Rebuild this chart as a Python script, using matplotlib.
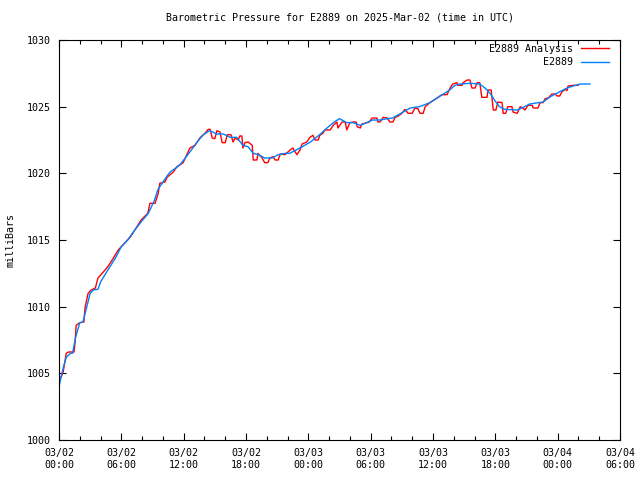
import matplotlib
matplotlib.use("Agg")
import matplotlib.pyplot as plt
from matplotlib.ticker import MultipleLocator

# hours since 2025-03-02 00:00 UTC
obs_hours = [0.0, 0.4, 0.7, 1.1, 1.3, 1.6, 2.0, 2.3, 2.6, 3.0, 3.3, 3.75, 4.0, 4.7, 5.4, 6.0,
             6.6, 7.3, 7.9, 8.6, 9.2, 9.5, 10.0, 10.5, 10.7, 11.6, 12.6, 13.3, 13.9, 14.5,
             15.2, 15.8, 16.5, 17.1, 17.7, 18.2, 18.7, 19.2, 19.8, 20.5, 21.1, 21.8, 22.2,
             23.2, 24.2, 25.1, 25.8, 26.4, 27.0, 27.7, 28.3, 29.0, 29.6, 30.2, 30.9, 31.6,
             32.1, 32.8, 33.8, 34.7, 35.7, 36.7, 37.6, 38.1, 38.6, 39.6, 40.5, 41.0, 41.5,
             42.0, 42.4, 42.9, 44.1, 44.7, 45.3, 46.6, 47.3, 47.9, 48.9, 49.5, 50.2, 51.1]
obs_mb = [1004.0, 1005.4, 1006.2, 1006.5, 1006.5, 1007.7, 1008.8, 1008.85, 1009.75, 1011.0,
          1011.25, 1011.3, 1011.85, 1012.75, 1013.6, 1014.5, 1015.0, 1015.75, 1016.35, 1017.0,
          1018.0, 1018.75, 1019.35, 1019.9, 1020.1, 1020.6, 1021.6, 1022.35, 1022.9, 1023.2,
          1022.95, 1022.95, 1022.7, 1022.7, 1022.1, 1022.0, 1021.5, 1021.4, 1021.15, 1021.15,
          1021.4, 1021.5, 1021.5, 1021.9, 1022.35, 1022.9, 1023.4, 1023.8, 1024.1, 1023.8,
          1023.8, 1023.6, 1023.8, 1024.0, 1024.0, 1024.1, 1024.15, 1024.45, 1024.9, 1025.0,
          1025.3, 1025.8, 1026.25, 1026.6, 1026.7, 1026.75, 1026.7, 1026.4, 1026.0, 1025.4,
          1025.0, 1024.8, 1024.75, 1024.95, 1025.2, 1025.35, 1025.75, 1026.0, 1026.4, 1026.55,
          1026.7, 1026.7]

ana_hours = [0.0, 0.2, 0.4, 0.7, 0.9, 1.3, 1.45, 1.55, 1.65, 2.0, 2.4, 2.5, 2.8, 3.1, 3.5,
             3.75, 4.05, 4.7, 5.2, 5.7, 6.35, 6.85, 7.3, 7.9, 8.55, 8.75, 9.25, 9.55, 9.7,
             10.2, 10.4, 11.0, 11.35, 11.95, 12.6, 13.1, 13.55, 14.05, 14.35, 14.55, 14.75,
             15.0, 15.2, 15.5, 15.7, 16.0, 16.2, 16.55, 16.75, 16.95, 17.25, 17.4, 17.6, 17.7,
             17.9, 18.2, 18.6, 18.7, 19.05, 19.15, 19.55, 19.8, 20.1, 20.3, 20.6, 20.8, 21.1,
             21.3, 21.75, 22.25, 22.5, 22.9, 23.2, 23.4, 23.85, 24.15, 24.45, 24.65, 24.95,
             25.1, 25.4, 25.6, 26.1, 26.4, 26.75, 26.85, 27.25, 27.55, 27.7, 28.0, 28.3, 28.6,
             28.7, 29.0, 29.15, 29.65, 29.85, 30.15, 30.6, 30.7, 30.9, 31.2, 31.6, 31.85, 32.15,
             32.35, 32.65, 33.0, 33.3, 33.6, 34.0, 34.25, 34.55, 34.75, 35.05, 35.25, 35.7,
             36.4, 36.85, 37.35, 37.65, 37.9, 38.3, 38.4, 38.8, 38.9, 39.3, 39.55, 39.75, 40.05,
             40.25, 40.5, 40.7, 41.2, 41.3, 41.6, 41.7, 41.8, 42.05, 42.25, 42.65, 42.75, 43.0,
             43.2, 43.6, 43.7, 44.1, 44.4, 44.65, 44.85, 45.15, 45.55, 45.65, 46.1, 46.3, 46.6,
             46.8, 47.1, 47.45, 47.75, 47.95, 48.2, 48.4, 48.7, 48.9, 49.0, 49.5, 49.95]
ana_mb = [1004.7, 1004.7, 1005.1, 1006.5, 1006.6, 1006.6, 1006.6, 1007.35, 1008.6, 1008.8,
          1008.85, 1009.9, 1011.0, 1011.25, 1011.4, 1012.15, 1012.4, 1013.0, 1013.6, 1014.25,
          1014.8, 1015.2, 1015.75, 1016.5, 1017.0, 1017.75, 1017.75, 1018.5, 1019.25, 1019.35,
          1019.7, 1020.1, 1020.5, 1020.8, 1021.9, 1022.1, 1022.65, 1023.0, 1023.3, 1023.3,
          1022.65, 1022.6, 1023.2, 1023.1, 1022.3, 1022.3, 1022.9, 1022.9, 1022.35, 1022.65,
          1022.5, 1022.8, 1022.8, 1021.9, 1022.3, 1022.35, 1022.1, 1021.0, 1021.0, 1021.5,
          1021.15, 1020.8, 1020.8, 1021.15, 1021.25, 1021.0, 1021.0, 1021.45, 1021.4, 1021.75,
          1021.9, 1021.4, 1021.75, 1022.2, 1022.35, 1022.7, 1022.85, 1022.5, 1022.5, 1022.85,
          1023.0, 1023.25, 1023.25, 1023.6, 1023.85, 1023.4, 1023.85, 1023.85, 1023.25, 1023.8,
          1023.85, 1023.85, 1023.5, 1023.4, 1023.7, 1023.8, 1023.85, 1024.15, 1024.15, 1023.85,
          1023.85, 1024.2, 1024.15, 1023.85, 1023.85, 1024.2, 1024.3, 1024.5, 1024.8, 1024.5,
          1024.5, 1024.9, 1024.85, 1024.5, 1024.5, 1025.0, 1025.3, 1025.65, 1025.9, 1025.9,
          1026.4, 1026.7, 1026.8, 1026.6, 1026.6, 1026.8, 1027.0, 1027.0, 1026.4, 1026.4,
          1026.8, 1026.8, 1025.7, 1025.7, 1026.25, 1026.25, 1025.5, 1024.75, 1024.75, 1025.35,
          1025.3, 1024.5, 1024.5, 1025.0, 1025.0, 1024.6, 1024.5, 1025.0, 1024.9, 1024.75,
          1025.1, 1025.1, 1024.9, 1024.9, 1025.3, 1025.3, 1025.6, 1025.65, 1025.95, 1025.95,
          1025.8, 1025.8, 1026.1, 1026.3, 1026.2, 1026.55, 1026.6, 1026.6]

tick_hours = [0, 6, 12, 18, 24, 30, 36, 42, 48, 54]
tick_labels = ["03/02\n00:00", "03/02\n06:00", "03/02\n12:00", "03/02\n18:00",
               "03/03\n00:00", "03/03\n06:00", "03/03\n12:00", "03/03\n18:00",
               "03/04\n00:00", "03/04\n06:00"]
y_ticks = [1000, 1005, 1010, 1015, 1020, 1025, 1030]

plt.rcParams['font.family'] = ['DejaVu Sans Mono']
FS = 7.2

fig = plt.figure(figsize=(6.4, 4.8), dpi=100)
ax = fig.add_axes([59/640, 40/480, 561/640, 400/480])

ax.plot(ana_hours, ana_mb, color='#ff0000', lw=1.0, label='E2889 Analysis')
ax.plot(obs_hours, obs_mb, color='#0080ff', lw=1.0, label='E2889')

ax.set_xlim(0, 54)
ax.set_ylim(1000, 1030)
ax.set_xticks(tick_hours)
ax.set_xticklabels(tick_labels, fontsize=FS, linespacing=1.25)
ax.xaxis.set_minor_locator(MultipleLocator(2))
ax.set_yticks(y_ticks)
ax.set_yticklabels([str(v) for v in y_ticks], fontsize=FS)

ax.tick_params(which='major', direction='in', length=5, width=0.8,
               top=True, right=True, pad=6, color='black')
ax.tick_params(which='minor', direction='in', length=3, width=0.8,
               top=True, right=False, bottom=True)
ax.tick_params(axis='x', which='major', pad=6)
for s in ax.spines.values():
    s.set_linewidth(0.8)

ax.set_ylabel('milliBars', fontsize=FS, labelpad=8)
ax.set_title('Barometric Pressure for E2889 on 2025-Mar-02 (time in UTC)',
             fontsize=FS, pad=14)

leg = ax.legend(loc='upper right', frameon=False, fontsize=FS, handlelength=2.8,
                markerfirst=False, borderaxespad=0.6, labelspacing=0.35,
                handletextpad=0.8, borderpad=0.3,
                bbox_to_anchor=(1.0 - 2/561, 1.0 + 5/400))
for t in leg.get_texts():
    t.set_ha('right')

fig.savefig('out.png', dpi=100)
